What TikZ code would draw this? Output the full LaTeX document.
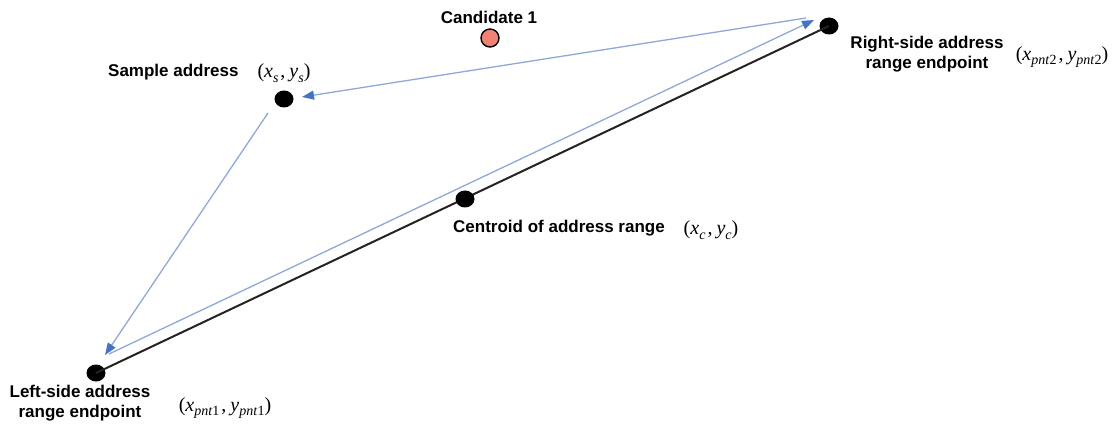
\documentclass[tikz,border=0pt]{standalone}
\usepackage[no-math]{fontspec}
\setmainfont{Liberation Sans}
\newfontfamily\crdfont{Liberation Serif}
\usetikzlibrary{arrows.meta,shapes.geometric}

\definecolor{linkblue}{RGB}{143,168,216}
\definecolor{tipblue}{RGB}{68,114,196}
\definecolor{salmon}{RGB}{242,130,115}
\definecolor{segdark}{RGB}{35,35,35}

% lowered index and coordinate pair (x_a , y_a) set in a serif, italic letters
\newcommand{\crdsub}[1]{\raisebox{-0.22em}{\fontsize{14}{14}\selectfont #1}}
\newcommand{\crdpair}[1]{(\textit{x}\crdsub{#1}\kern2pt,\kern4pt\textit{y}\crdsub{#1})}

\tikzset{
  dot/.style={ellipse, fill=black, minimum width=19pt, minimum height=17pt, inner sep=0pt},
  cand/.style={circle, draw=black, line width=1.4pt, fill=salmon, minimum size=18pt, inner sep=0pt},
  lbl/.style={font=\fontsize{17}{20}\selectfont\bfseries, inner sep=0pt, align=center},
  coord/.style={font=\fontsize{20}{22}\selectfont\crdfont, inner sep=0pt},
  flow/.style={draw=linkblue, line width=1.3pt, -{Triangle[length=12pt,width=9pt,fill=tipblue,color=tipblue]}},
  segment/.style={draw=segdark, line width=2pt}
}

\begin{document}
\begin{tikzpicture}[x=1pt,y=-1pt]
\useasboundingbox (0,0) rectangle (1120,425);

% points
\node[cand] (cand) at (490,38) {};
\node[dot] (samp) at (284,99) {};
\node[dot] (right) at (829,26) {};
\node[dot] (left) at (96,373) {};

% address range segment with its centroid
\draw[segment] (left.center) -- (right.center);
\node[dot] (cent) at (465,199) {};

% path ends of the blue loop
\coordinate (rs0) at (806,18);
\coordinate (rs1) at (302,97);
\coordinate (sl0) at (268,113);
\coordinate (sl1) at (105,355);
\coordinate (lr0) at (109,354);
\coordinate (lr1) at (814,20);

\draw[flow] (rs0) -- (rs1);
\draw[flow] (sl0) -- (sl1);
\draw[flow] (lr0) -- (lr1);

% labels
\node[lbl] (candl) at (489,17) {Candidate 1};
\node[lbl, anchor=west] (sampl) at (108,72) {Sample address};
\node[coord] (sampc) at (284,73) {\crdpair{\textit{s}}};
\node[lbl] (rightl) at (927,54) {Right-side address\\range endpoint};
\node[coord] (rightc) at (1062,57) {\crdpair{\textit{pnt}2}};
\node[lbl] (centl) at (559,228) {Centroid of address range};
\node[coord] (centc) at (711,230) {\crdpair{\textit{c}}};
\node[lbl] (leftl) at (80,403) {Left-side address\\range endpoint};
\node[coord] (leftc) at (225,408) {\crdpair{\textit{pnt}1}};
\end{tikzpicture}
\end{document}
